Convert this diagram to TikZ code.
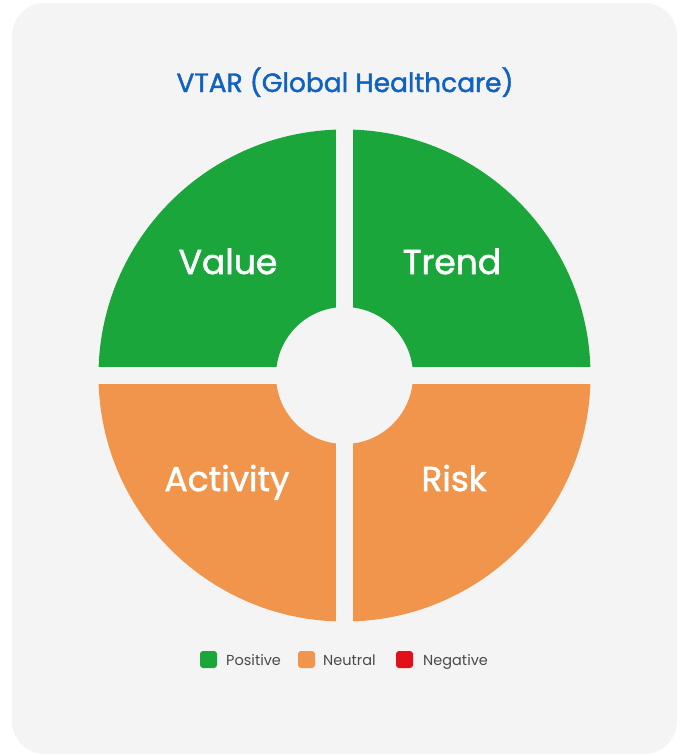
\documentclass[tikz,border=0pt]{standalone}
\usepackage{fontspec}
\setmainfont{Poppins}
\newfontfamily\pmed{Poppins}[FakeBold=1.6]
\definecolor{bg}{HTML}{F4F4F4}
\definecolor{pgreen}{HTML}{1BA63B}
\definecolor{porange}{HTML}{F0954B}
\definecolor{pred}{HTML}{E3101A}
\definecolor{tblue}{HTML}{0F62C0}
\definecolor{lgray}{HTML}{4A4A4A}
\begin{document}
\begin{tikzpicture}[x=1pt,y=-1pt,
  quad/.style={text=white,font=\pmed\fontsize{34.5}{40}\selectfont,anchor=base},
  legsq/.style={rounded corners=3pt},
  legtxt/.style={text=lgray,font=\fontsize{14.5}{16}\selectfont,anchor=base west,inner sep=0pt}]
\fill[white] (0,0) rectangle (685,755);
\useasboundingbox (0,0) rectangle (685,755);
\fill[bg, rounded corners=33pt] (12,3) rectangle (677,754);
\coordinate (C) at (344.5,375.5);
\begin{scope}
  \clip (0,0) rectangle (685,375.5);
  \fill[pgreen,even odd rule] (C) circle[radius=246] (C) circle[radius=68.5];
\end{scope}
\begin{scope}
  \clip (0,375.5) rectangle (685,755);
  \fill[porange,even odd rule] (C) circle[radius=246] (C) circle[radius=68.5];
\end{scope}
\fill[bg] (336,120) rectangle (353,630);
\fill[bg] (90,367) rectangle (600,383.5);
\node[text=tblue,font=\pmed\fontsize{26.5}{30}\selectfont,anchor=base] (title) at (345,92) {VTAR (Global Healthcare)};
\node[quad] (value) at (228,274) {Value};
\node[quad] (trend) at (452,274) {Trend};
\node[quad] (activity) at (227,491) {Activity};
\node[quad] (risk) at (454,491) {Risk};
\fill[pgreen,legsq] (200,651) rectangle (217,668);
\node[legtxt] (pos) at (226,665.5) {Positive};
\fill[porange,legsq] (298,651) rectangle (315,668);
\node[legtxt] (neu) at (323,665.5) {Neutral};
\fill[pred,legsq] (396,651) rectangle (413,668);
\node[legtxt] (neg) at (423,665.5) {Negative};
\end{tikzpicture}
\end{document}
